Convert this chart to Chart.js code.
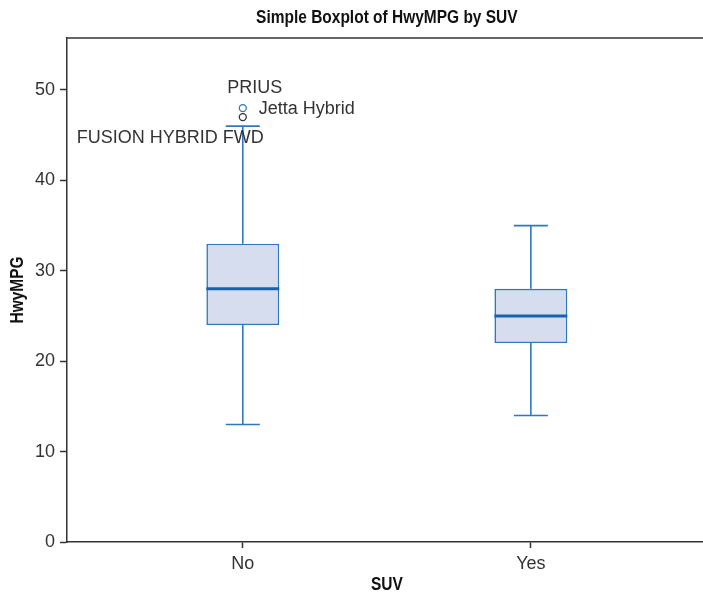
<!DOCTYPE html>
<html><head><meta charset="utf-8">
<script src="https://cdn.jsdelivr.net/npm/chart.js@4"></script>
<style>html,body{margin:0;padding:0;overflow:hidden;background:#fff}#wrap{width:712px;height:592px}</style>
</head><body><div id="wrap"><canvas id="c" width="712" height="592"></canvas></div>
<script>
// ---- data ----
const categories = ['No', 'Yes'];
const categoryPositions = [1, 2];
const whiskerLow = [13, 14];
const q1 = [24, 22];
const medians = [28, 25];
const q3 = [33, 28];
const whiskerHigh = [46, 35];
const outlierValues = [48, 47];
const outlierCategoryIndex = [0, 0];
const outlierLabels = ['PRIUS', 'Jetta Hybrid', 'FUSION HYBRID FWD'];
const labelOutlierIndex = [0, 0, 1];
const yTickValues = [0, 10, 20, 30, 40, 50];
const chartTitle = 'Simple Boxplot of HwyMPG by SUV';
const xTitle = 'SUV';
const yTitle = 'HwyMPG';

// ---- style ----
const REG = '"Liberation Sans",Arial,sans-serif';
const BOX_FILL = '#d5ddef';
const BOX_LINE = '#2f78c0';
const MEDIAN_LINE = '#1563ae';
const AXIS = '#333333';
const BOX_WIDTH_UNITS = 0.253;
const CAP_HALF_UNITS = 0.059;
const CONDENSE = 0.86;
const labelStyle = [
  {dx: 12, dy: -20, align: 'center'},
  {dx: 16, dy: 1, align: 'left'},
  {dx: 21, dy: 21, align: 'right'}
];
const outlierColors = ['#2f78c0', '#333333'];

// ---- build datasets ----
const boxData = categoryPositions.map((p, i) => ({x: p, y: [q1[i], q3[i]]}));
const whiskerData = [];
const medianData = [];
categoryPositions.forEach((p, i) => {
  whiskerData.push({x: p, y: q3[i]}, {x: p, y: whiskerHigh[i]}, {x: p, y: null});
  whiskerData.push({x: p - CAP_HALF_UNITS, y: whiskerHigh[i]}, {x: p + CAP_HALF_UNITS, y: whiskerHigh[i]}, {x: p, y: null});
  whiskerData.push({x: p, y: q1[i]}, {x: p, y: whiskerLow[i]}, {x: p, y: null});
  whiskerData.push({x: p - CAP_HALF_UNITS, y: whiskerLow[i]}, {x: p + CAP_HALF_UNITS, y: whiskerLow[i]}, {x: p, y: null});
  medianData.push({x: p - BOX_WIDTH_UNITS / 2, y: medians[i]}, {x: p + BOX_WIDTH_UNITS / 2, y: medians[i]}, {x: p, y: null});
});
const outlierData = outlierValues.map((v, i) => ({x: categoryPositions[outlierCategoryIndex[i]], y: v}));

const labelPlugin = {
  id: 'outlierLabels',
  afterDatasetsDraw(chart) {
    const {ctx, scales: {x, y}} = chart;
    ctx.save();
    ctx.font = '18px ' + REG;
    ctx.fillStyle = '#333333';
    ctx.textBaseline = 'middle';
    outlierLabels.forEach((t, i) => {
      const oi = labelOutlierIndex[i];
      const px = x.getPixelForValue(categoryPositions[outlierCategoryIndex[oi]]);
      const py = y.getPixelForValue(outlierValues[oi]);
      ctx.textAlign = labelStyle[i].align;
      ctx.fillText(t, px + labelStyle[i].dx, py + labelStyle[i].dy);
    });
    ctx.restore();
  }
};
function condensedText(ctx, text, x, y, rot) {
  ctx.save();
  ctx.translate(x, y);
  if (rot) ctx.rotate(rot);
  ctx.scale(CONDENSE, 1);
  ctx.fillText(text, 0, 0);
  ctx.restore();
}
const framePlugin = {
  id: 'frameAndTitles',
  afterDraw(chart) {
    const {ctx, chartArea: a} = chart;
    ctx.save();
    ctx.strokeStyle = AXIS; ctx.lineWidth = 1.5;
    ctx.beginPath(); ctx.moveTo(a.left - 0.75, a.top); ctx.lineTo(a.right + 5, a.top); ctx.stroke();
    ctx.fillStyle = '#111';
    ctx.font = 'bold 18px ' + REG;
    ctx.textAlign = 'center';
    ctx.textBaseline = 'alphabetic';
    const cx = (a.left + a.right) / 2;
    condensedText(ctx, chartTitle, cx, 23, 0);
    condensedText(ctx, xTitle, cx, 590, 0);
    condensedText(ctx, yTitle, 23, (a.top + a.bottom) / 2, -Math.PI / 2);
    ctx.restore();
  }
};

new Chart(document.getElementById('c'), {
  type: 'bar',
  data: {
    datasets: [
      {type: 'line', data: outlierData, showLine: false, pointRadius: 3.5, pointBorderWidth: 1.3,
       pointBorderColor: outlierColors, pointBackgroundColor: 'rgba(0,0,0,0)', order: 0},
      {type: 'line', data: medianData, borderColor: MEDIAN_LINE, borderWidth: 3, pointRadius: 0, spanGaps: false, order: 1},
      {type: 'line', data: whiskerData, borderColor: BOX_LINE, borderWidth: 1.6, pointRadius: 0, spanGaps: false, order: 2},
      {type: 'bar', data: boxData, backgroundColor: BOX_FILL, borderColor: BOX_LINE, borderWidth: 1.6,
       borderSkipped: false, categoryPercentage: 1, barPercentage: BOX_WIDTH_UNITS, grouped: false, order: 3}
    ]
  },
  options: {
    responsive: false,
    animation: false,
    layout: {padding: {left: 0, right: 1, top: 38, bottom: 0}},
    plugins: {
      legend: {display: false},
      tooltip: {enabled: false},
      title: {display: false}
    },
    scales: {
      x: {
        type: 'linear', min: 0.3897, max: 2.6104, offset: false,
        afterBuildTicks: s => { s.ticks = categoryPositions.map(v => ({value: v})); },
        afterFit: s => { s.height = 50; },
        grid: {display: true, offset: false, drawOnChartArea: false, drawTicks: true, tickLength: 6, tickColor: AXIS, tickWidth: 1.5},
        border: {display: true, color: AXIS, width: 1.5},
        ticks: {callback: (v) => categories[categoryPositions.indexOf(v)], color: '#333', padding: 5,
          font: {family: REG, size: 18}, maxRotation: 0, autoSkip: false},
        title: {display: false}
      },
      y: {
        type: 'linear', min: 0, max: 55.75,
        afterBuildTicks: s => { s.ticks = yTickValues.map(v => ({value: v})); },
        afterFit: s => { s.width = 67; },
        grid: {display: true, offset: false, drawOnChartArea: false, drawTicks: true, tickLength: 7, tickColor: AXIS, tickWidth: 1.5},
        border: {display: true, color: AXIS, width: 1.5},
        ticks: {color: '#333', padding: 5, font: {family: REG, size: 18}},
        title: {display: false}
      }
    }
  },
  plugins: [labelPlugin, framePlugin]
});
</script></body></html>
